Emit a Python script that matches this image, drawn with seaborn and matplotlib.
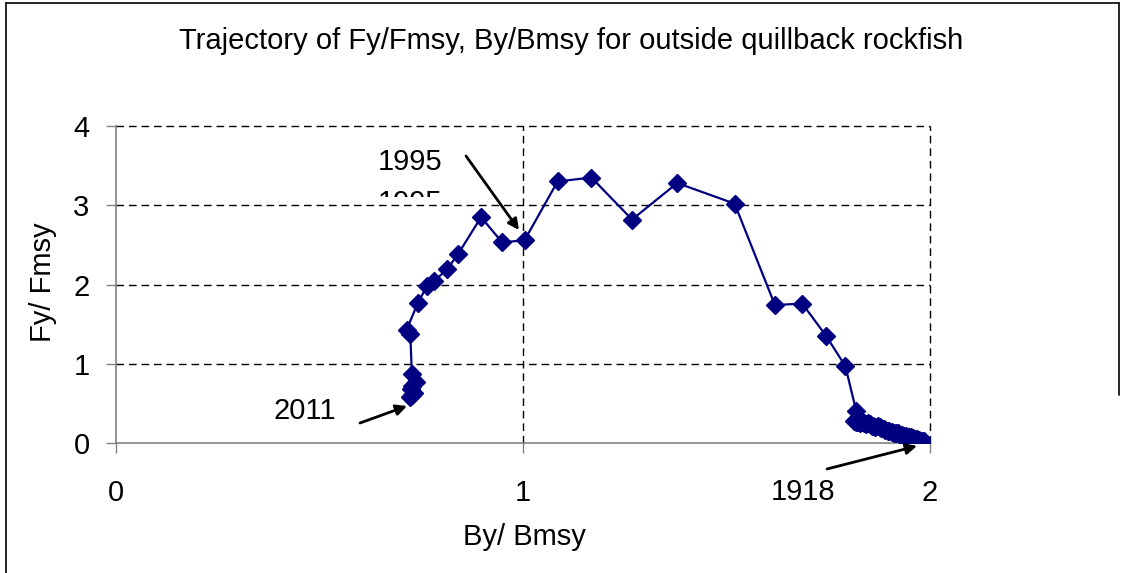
import matplotlib
matplotlib.use("Agg")
import matplotlib.pyplot as plt
import seaborn as sns
from matplotlib.transforms import Bbox
from matplotlib.lines import Line2D

# B/Bmsy and F/Fmsy, chronological from 1918 (bottom right) to 2011
by_bmsy = [1.985, 1.980, 1.975, 1.972, 1.968, 1.962, 1.958, 1.953, 1.948, 1.944,
           1.940, 1.935, 1.930, 1.925, 1.921, 1.917, 1.912, 1.906, 1.900, 1.896,
           1.890, 1.886, 1.880, 1.876, 1.872, 1.866, 1.861, 1.857, 1.852, 1.848,
           1.842, 1.838, 1.833, 1.828, 1.822, 1.818, 1.814,
           1.819, 1.792, 1.745, 1.686, 1.619, 1.520, 1.379, 1.268, 1.168, 1.085,
           1.004, 0.949, 0.897, 0.840, 0.813, 0.781, 0.764, 0.742, 0.714, 0.723,
           0.727, 0.736, 0.728, 0.733, 0.725, 0.728, 0.722]
fy_fmsy = [0.02, 0.03, 0.03, 0.04, 0.05, 0.05, 0.06, 0.07, 0.07, 0.08,
           0.09, 0.09, 0.10, 0.11, 0.12, 0.12, 0.13, 0.14, 0.15, 0.15,
           0.17, 0.18, 0.19, 0.20, 0.21, 0.20, 0.21, 0.22, 0.24, 0.25,
           0.24, 0.25, 0.26, 0.25, 0.27, 0.26, 0.28,
           0.40, 0.97, 1.35, 1.76, 1.74, 3.02, 3.28, 2.82, 3.35, 3.30,
           2.56, 2.53, 2.85, 2.38, 2.19, 2.04, 1.98, 1.77, 1.43, 1.38,
           0.87, 0.77, 0.72, 0.63, 0.68, 0.60, 0.58]

x_ticks = [0, 1, 2]
y_ticks = [0, 1, 2, 3, 4]

sns.set_theme(style="white")
plt.rcParams['font.family'] = ['Liberation Sans', 'DejaVu Sans']
plt.rcParams['text.color'] = 'black'

W, H = 1125, 573
FS = 21
fig = plt.figure(figsize=(W / 100, H / 100), dpi=100)
ax = fig.add_axes([116 / W, 1 - 443 / H, (930 - 116) / W, (443 - 126) / H])

navy = '#000080'
sns.lineplot(x=by_bmsy, y=fy_fmsy, sort=False, estimator=None, ax=ax,
             color=navy, linewidth=1.6, marker='D', markersize=9,
             markeredgecolor=navy, markeredgewidth=1, zorder=3)

ax.set_xlim(0, 2)
ax.set_ylim(0, 4)
ax.set_xticks(x_ticks)
ax.set_yticks(y_ticks)

# dashed gridlines
for yv in y_ticks[1:]:
    ax.axhline(yv, color='black', lw=1, ls=(0, (5.5, 3.5)), zorder=1, clip_on=False)
for xv in x_ticks[1:]:
    ax.axvline(xv, color='black', lw=1, ls=(0, (5.5, 3.5)), zorder=1, clip_on=False)

for side in ['top', 'right']:
    ax.spines[side].set_visible(False)
for side in ['left', 'bottom']:
    ax.spines[side].set_color('#808080')
    ax.spines[side].set_linewidth(1.2)

ax.tick_params(axis='both', direction='out', length=7, width=1, color='#808080',
               labelsize=FS, labelcolor='black')
ax.tick_params(axis='x', pad=19, bottom=True)
ax.tick_params(axis='y', pad=12, left=True)

# text
fig.text(571 / W, 1 - 41 / H, 'Trajectory of Fy/Fmsy, By/Bmsy for outside quillback rockfish',
         ha='center', va='center', fontsize=FS)
fig.text(524 / W, 1 - 537 / H, 'By/ Bmsy', ha='center', va='center', fontsize=FS)
fig.text(43 / W, 1 - 282 / H, 'Fy/ Fmsy', ha='center', va='center', fontsize=FS,
         rotation=90)

# year annotations with arrows (positions in figure pixels)
def fpx(x, y):
    return (x / W, 1 - y / H)

arrow = dict(arrowstyle='-|>', color='black', lw=2, mutation_scale=16,
             shrinkA=0, shrinkB=0)
ax.annotate('', xy=fpx(519, 230), xytext=fpx(466, 156),
            xycoords='figure fraction', textcoords='figure fraction', arrowprops=arrow)
ax.annotate('', xy=fpx(407, 406), xytext=fpx(360, 423),
            xycoords='figure fraction', textcoords='figure fraction', arrowprops=arrow)
ax.annotate('', xy=fpx(917, 446), xytext=fpx(827, 469),
            xycoords='figure fraction', textcoords='figure fraction', arrowprops=arrow)

fig.text(410 / W, 1 - 162 / H, '1995', ha='center', va='center', fontsize=FS)
fig.text(305 / W, 1 - 411 / H, '2011', ha='center', va='center', fontsize=FS)
fig.text(803 / W, 1 - 492 / H, '1918', ha='center', va='center', fontsize=FS)

# second 1995 label, mostly hidden
ghost = fig.text(410 / W, 1 - 203 / H, '1995', ha='center', va='center', fontsize=FS)
ghost.set_clip_box(Bbox([[0, H - 197], [W, H]]))
ghost.set_clip_on(True)

# outer frame
for xs, ys in [([6, 6], [3, H]), ([6, 1119], [3, 3]), ([1119, 1119], [3, 395])]:
    fig.add_artist(Line2D([x / W for x in xs], [1 - y / H for y in ys],
                          color='black', lw=1.2))

fig.savefig('out.png', dpi=100)
